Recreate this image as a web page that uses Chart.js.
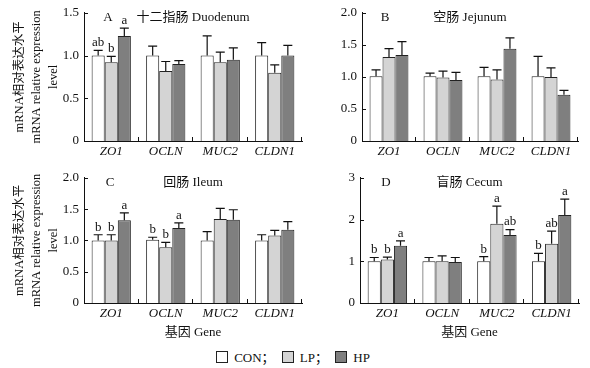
<!DOCTYPE html>
<html>
<head>
<meta charset="utf-8">
<script src="https://cdn.jsdelivr.net/npm/chart.js@4.4.0/dist/chart.umd.min.js"></script>
<style>
body { margin: 0; background: #fff; }
#wrap { position: relative; width: 590px; height: 368px; overflow: hidden; background: #fff;
        font-family: 'Liberation Serif', 'Noto Sans CJK SC', serif; color: #111; }
canvas { position: absolute; }
#legend { position: absolute; left: 0; top: 347px; width: 586px; text-align: center; font-size: 13px; }
#legend span.box { display: inline-block; width: 10px; height: 10px; border: 1px solid #222;
                   vertical-align: -1px; margin-right: 6px; }
#legend span.item { margin: 0 2px; }
</style>
</head>
<body>
<div id="wrap">
  <canvas id="cA" width="305" height="165" style="left:0;top:0"></canvas>
  <canvas id="cB" width="285" height="165" style="left:305px;top:0"></canvas>
  <canvas id="cC" width="305" height="178" style="left:0;top:165px"></canvas>
  <canvas id="cD" width="285" height="178" style="left:305px;top:165px"></canvas>
  <div id="legend">
    <span class="item"><span class="box" style="background:#ffffff"></span>CON；</span>
    <span class="item"><span class="box" style="background:#d4d4d4"></span>LP；</span>
    <span class="item"><span class="box" style="background:#7f7f7f"></span>HP</span>
  </div>
</div>
<script>
const genes = ['ZO1', 'OCLN', 'MUC2', 'CLDN1'];
const groups = ['CON', 'LP', 'HP'];
const colors = ['#ffffff', '#d4d4d4', '#7f7f7f'];

// A 十二指肠 Duodenum
const conA = [1.00, 1.00, 1.00, 1.00];
const lpA = [0.92, 0.82, 0.92, 0.80];
const hpA = [1.23, 0.90, 0.95, 1.00];
const conErrA = [0.06, 0.11, 0.23, 0.15];
const lpErrA = [0.07, 0.11, 0.12, 0.09];
const hpErrA = [0.09, 0.04, 0.14, 0.12];
const sigA = [['ab', '', '', ''], ['b', '', '', ''], ['a', '', '', '']];

// B 空肠 Jejunum
const conB = [1.01, 1.01, 1.01, 1.01];
const lpB = [1.31, 0.99, 0.96, 1.00];
const hpB = [1.34, 0.95, 1.44, 0.72];
const conErrB = [0.10, 0.05, 0.14, 0.31];
const lpErrB = [0.13, 0.10, 0.15, 0.14];
const hpErrB = [0.21, 0.12, 0.17, 0.07];
const sigB = [['', '', '', ''], ['', '', '', ''], ['', '', '', '']];

// C 回肠 Ileum
const conC = [1.00, 1.01, 1.00, 1.00];
const lpC = [1.00, 0.89, 1.34, 1.08];
const hpC = [1.32, 1.20, 1.33, 1.17];
const conErrC = [0.09, 0.04, 0.14, 0.09];
const lpErrC = [0.09, 0.08, 0.17, 0.08];
const hpErrC = [0.12, 0.08, 0.16, 0.13];
const sigC = [['b', 'b', '', ''], ['b', 'b', '', ''], ['a', 'a', '', '']];

// D 盲肠 Cecum
const conD = [1.00, 1.00, 1.00, 1.00];
const lpD = [1.04, 1.00, 1.90, 1.42];
const hpD = [1.37, 0.98, 1.63, 2.11];
const conErrD = [0.09, 0.09, 0.11, 0.19];
const lpErrD = [0.06, 0.13, 0.42, 0.30];
const hpErrD = [0.12, 0.11, 0.13, 0.38];
const sigD = [['b', '', 'b', 'b'], ['b', '', 'a', 'ab'], ['a', '', 'ab', 'a']];

const serif = "'Liberation Serif', 'Noto Sans CJK SC', serif";

// error bars, letters, inner ticks, panel titles
const decor = {
    id: 'decor',
    afterDatasetsDraw(chart) {
        const ctx = chart.ctx;
        const y = chart.scales.y;
        ctx.save();
        ctx.strokeStyle = '#111';
        ctx.lineWidth = 1.2;
        ctx.fillStyle = '#111';
        ctx.font = '13px ' + serif;
        ctx.textAlign = 'center';
        ctx.textBaseline = 'bottom';
        chart.data.datasets.forEach((ds, i) => {
            chart.getDatasetMeta(i).data.forEach((bar, j) => {
                const top = y.getPixelForValue(ds.data[j] + ds.err[j]);
                ctx.beginPath();
                ctx.moveTo(bar.x, bar.y);
                ctx.lineTo(bar.x, top);
                ctx.moveTo(bar.x - 4.5, top);
                ctx.lineTo(bar.x + 4.5, top);
                ctx.stroke();
                if (ds.sig[j]) ctx.fillText(ds.sig[j], bar.x, top - 1);
            });
        });
        ctx.restore();
    },
    afterDraw(chart, args, opts) {
        const ctx = chart.ctx;
        const a = chart.chartArea;
        const y = chart.scales.y;
        ctx.save();
        ctx.strokeStyle = '#111';
        ctx.lineWidth = 1;
        ctx.beginPath();
        const w = (a.right - a.left) / genes.length;
        for (let i = 1; i <= genes.length; i++) {
            const x = Math.round(a.left + i * w) - 0.5;
            ctx.moveTo(x, a.bottom);
            ctx.lineTo(x, a.bottom - 4);
        }
        y.ticks.forEach(t => {
            if (t.value === 0) return;
            const py = Math.round(y.getPixelForValue(t.value)) + 0.5;
            ctx.moveTo(a.left, py);
            ctx.lineTo(a.left + 4, py);
        });
        ctx.stroke();
        ctx.fillStyle = '#111';
        ctx.font = '13px ' + serif;
        ctx.textBaseline = 'middle';
        ctx.textAlign = 'center';
        ctx.fillText(opts.letter, a.left + opts.letterX, a.top + 5);
        ctx.fillText(opts.title, (a.left + a.right) / 2, a.top + 5);
        ctx.restore();
    }
};

function panel(id, d, p) {
    const datasets = groups.map((g, k) => ({
        label: g,
        data: d.values[k],
        err: d.errs[k],
        sig: d.sig[k],
        backgroundColor: colors[k],
        borderColor: '#222',
        borderWidth: 1,
        borderSkipped: 'bottom',
        categoryPercentage: 0.72,
        barPercentage: 1.0
    }));
    new Chart(document.getElementById(id), {
        type: 'bar',
        data: { labels: genes, datasets: datasets },
        plugins: [decor],
        options: {
            responsive: false,
            animation: false,
            layout: { padding: { top: p.top, right: p.right, left: 0, bottom: 0 } },
            plugins: {
                legend: { display: false },
                tooltip: { enabled: false },
                decor: { letter: p.letter, letterX: p.letterX, title: p.title }
            },
            scales: {
                x: {
                    grid: { display: false, drawTicks: false },
                    border: { display: true, color: '#111', width: 1 },
                    ticks: { color: '#111', padding: 3, font: { family: serif, size: 13, style: 'italic' } },
                    title: {
                        display: p.xTitle,
                        text: '基因 Gene',
                        color: '#111',
                        padding: { top: 0, bottom: 3 },
                        font: { family: serif, size: 13 }
                    },
                    afterFit: s => { s.height = p.xHeight; }
                },
                y: {
                    min: 0,
                    max: p.max,
                    grid: { display: false, drawTicks: false },
                    border: { display: true, color: '#111', width: 1 },
                    ticks: {
                        stepSize: p.step,
                        color: '#111',
                        padding: 5,
                        font: { family: serif, size: 13 },
                        callback: v => (v === 0 ? '0' : (p.step < 1 ? v.toFixed(1) : String(v)))
                    },
                    title: {
                        display: p.yTitle,
                        text: ['mRNA相对表达水平', 'mRNA relative expression', 'level'],
                        color: '#111',
                        padding: { top: 11.5, bottom: 0 },
                        font: { family: serif, size: 12.5, lineHeight: 1.35 }
                    },
                    afterFit: s => { s.width = p.yWidth; }
                }
            }
        }
    });
}

panel('cA', { values: [conA, lpA, hpA], errs: [conErrA, lpErrA, hpErrA], sig: sigA },
      { top: 10, right: 3, max: 1.5, step: 0.5, yWidth: 84, xHeight: 24, yTitle: true, xTitle: false,
        letter: 'A', letterX: 24, title: '十二指肠 Duodenum' });
panel('cB', { values: [conB, lpB, hpB], errs: [conErrB, lpErrB, hpErrB], sig: sigB },
      { top: 9, right: 12, max: 2.0, step: 0.5, yWidth: 57, xHeight: 24, yTitle: false, xTitle: false,
        letter: 'B', letterX: 23, title: '空肠 Jejunum' });
panel('cC', { values: [conC, lpC, hpC], errs: [conErrC, lpErrC, hpErrC], sig: sigC },
      { top: 7, right: 3, max: 2.0, step: 0.5, yWidth: 84, xHeight: 40, yTitle: true, xTitle: true,
        letter: 'C', letterX: 26, title: '回肠 Ileum' });
panel('cD', { values: [conD, lpD, hpD], errs: [conErrD, lpErrD, hpErrD], sig: sigD },
      { top: 7, right: 11, max: 3, step: 1, yWidth: 55, xHeight: 40, yTitle: false, xTitle: true,
        letter: 'D', letterX: 26, title: '盲肠 Cecum' });
</script>
</body>
</html>
